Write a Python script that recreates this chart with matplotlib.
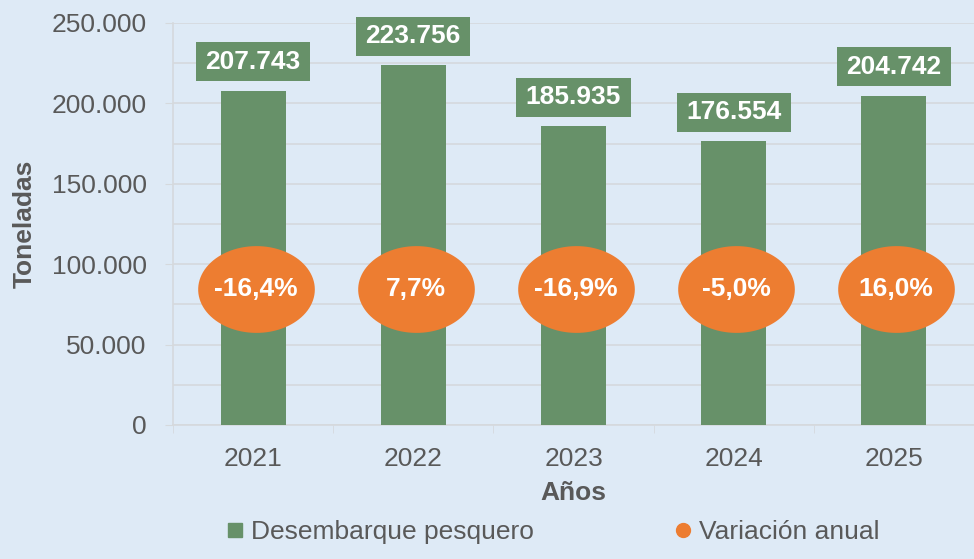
import matplotlib.pyplot as plt
import numpy as np
from matplotlib.path import Path
from matplotlib.lines import Line2D
from matplotlib.patches import Rectangle
from matplotlib.transforms import IdentityTransform

years = ["2021", "2022", "2023", "2024", "2025"]
desembarque = [207743, 223756, 185935, 176554, 204742]
variacion = [-16.4, 7.7, -16.9, -5.0, 16.0]

green = "#679169"
orange = "#ED7D31"
bg = "#DEEAF6"
grey = "#595959"
gridc = "#D5D9DD"
fs = 19

plt.rcParams['font.family'] = ['Liberation Sans', 'DejaVu Sans']


def fmt_miles(v):
    return f"{v:,.0f}".replace(",", ".")


def fmt_pct(v):
    return f"{v:.1f}%".replace(".", ",")


fig = plt.figure(figsize=(9.74, 5.59), dpi=100, facecolor=bg)
ax = fig.add_axes([173 / 974, 134 / 559, 801 / 974, 402 / 559])
ax.set_facecolor(bg)

x = np.arange(len(years))
ax.bar(x, desembarque, width=0.405, color=green, zorder=3)

ax.set_xlim(-0.5, len(years) - 0.5)
ax.set_ylim(0, 250000)
ax.set_yticks(np.arange(0, 250001, 50000))
ax.set_yticks(np.arange(25000, 250000, 50000), minor=True)
ax.set_yticklabels([fmt_miles(v) for v in np.arange(0, 250001, 50000)])
ax.grid(axis='y', which='both', color=gridc, linewidth=1.2, zorder=0)
ax.tick_params(axis='y', which='major', length=6, color=gridc, labelsize=fs,
               labelcolor=grey, pad=13)
ax.tick_params(axis='y', which='minor', length=0)

ax.set_xticks(x)
ax.set_xticklabels(years)
ax.set_xticks(np.arange(-0.5, len(years), 1.0), minor=True)
ax.tick_params(axis='x', which='major', length=0, labelsize=fs, labelcolor=grey, pad=16)
ax.tick_params(axis='x', which='minor', length=6, color=gridc, direction='out')

for side in ['top', 'right']:
    ax.spines[side].set_visible(False)
ax.spines['left'].set_color(gridc)
ax.spines['bottom'].set_color(gridc)
ax.spines['left'].set_linewidth(1.2)
ax.spines['bottom'].set_linewidth(1.2)

ax.set_ylabel("Toneladas", fontsize=fs, fontweight='bold', color=grey, va='center')
ax.yaxis.set_label_coords((25 - 173) / 801, 0.5)
ax.set_xlabel("Años", fontsize=fs, fontweight='bold', color=grey, va='center')
ax.xaxis.set_label_coords(0.5, (425 - 493) / 402)

# value labels above bars (box drawn after layout, in pixels)
labels = []
for xi, v in zip(x, desembarque):
    t = ax.annotate(fmt_miles(v), xy=(xi, v), xytext=(0, 29 * 0.72),
                    textcoords='offset points', ha='center', va='center',
                    fontsize=fs, fontweight='bold', color='white',
                    zorder=7, annotation_clip=False)
    labels.append(t)

# annual variation ellipses
theta = np.linspace(0, 2 * np.pi, 100)
ell = Path(np.column_stack([0.5 * np.cos(theta), 0.372 * np.sin(theta)]))
ell_y = [84300] * len(years)
ax.scatter(x + 0.015, ell_y, marker=ell, s=84 ** 2, color=orange, zorder=6, linewidths=0)
for xi, yi, v in zip(x, ell_y, variacion):
    ax.text(xi + 0.015, yi, fmt_pct(v), ha='center', va='center', fontsize=fs,
            fontweight='bold', color='white', zorder=7)

handles = [
    Line2D([], [], marker='s', linestyle='none', markersize=10, color=green,
           label="Desembarque pesquero"),
    Line2D([], [], marker='o', linestyle='none', markersize=10, color=orange,
           label="Variación anual"),
]
leg = fig.legend(handles=handles, loc='center', bbox_to_anchor=(553 / 974, 27 / 559),
                 ncol=2, frameon=False, fontsize=fs, handlelength=0.6,
                 handletextpad=0.3, columnspacing=5.35)
for t in leg.get_texts():
    t.set_color(grey)

fig.canvas.draw()
renderer = fig.canvas.get_renderer()
for t in labels:
    bb = t.get_window_extent(renderer)
    cx = (bb.x0 + bb.x1) / 2
    cy = (bb.y0 + bb.y1) / 2
    w = bb.width + 19
    h = 39
    ax.add_patch(Rectangle((cx - w / 2, cy - h / 2), w, h, facecolor=green,
                           edgecolor='none', transform=IdentityTransform(),
                           clip_on=False, zorder=5))

fig.savefig("out.png", dpi=100, facecolor=bg)
